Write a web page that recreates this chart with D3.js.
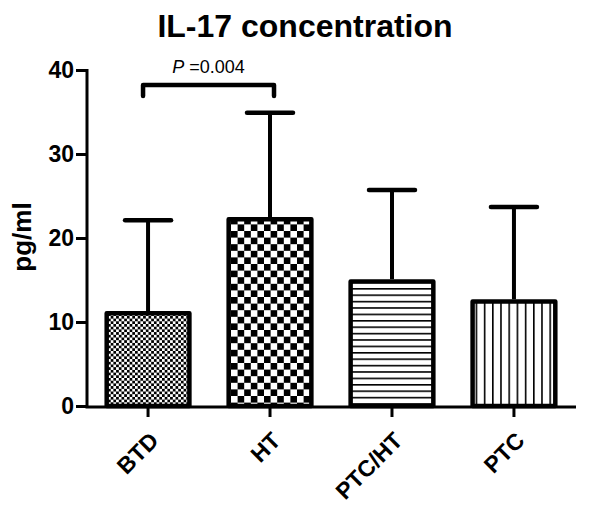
<!DOCTYPE html>
<html>
<head>
<meta charset="utf-8">
<script src="https://cdn.jsdelivr.net/npm/d3@7/dist/d3.min.js"></script>
<style>
  html, body { margin: 0; padding: 0; background: #fff; }
  svg { display: block; }
  text { font-family: "Liberation Sans", Arial, sans-serif; }
</style>
</head>
<body>
<div id="chart"></div>
<script>
const categories = ["BTD", "HT", "PTC/HT", "PTC"];
const means = [11.3, 22.5, 15.1, 12.7];
const errors = [10.8, 12.4, 10.6, 11.0];
const yTicks = [0, 10, 20, 30, 40];
const patterns = ["fineCheck", "coarseCheck", "hLines", "vLines"];
const title = "IL-17 concentration";
const yLabel = "pg/ml";
const sig = { from: "BTD", to: "HT", level: 38.2, drop: 1.3, label: "=0.004" };

const W = 600, H = 514;
const svg = d3.select("#chart").append("svg").attr("width", W).attr("height", H);

const defs = svg.append("defs");
(function(){
  const p = defs.append("pattern").attr("id", "fineCheck").attr("patternUnits", "userSpaceOnUse")
    .attr("width", 5.4).attr("height", 5.4);
  p.append("rect").attr("width", 5.4).attr("height", 5.4).attr("fill", "#fff");
  p.append("rect").attr("width", 2.7).attr("height", 2.7).attr("fill", "#000");
  p.append("rect").attr("x", 2.7).attr("y", 2.7).attr("width", 2.7).attr("height", 2.7).attr("fill", "#000");
})();
(function(){
  const s = 6.6;
  const p = defs.append("pattern").attr("id", "coarseCheck").attr("patternUnits", "userSpaceOnUse")
    .attr("width", 2*s).attr("height", 2*s);
  p.append("rect").attr("width", 2*s).attr("height", 2*s).attr("fill", "#fff");
  p.append("rect").attr("width", s).attr("height", s).attr("fill", "#000");
  p.append("rect").attr("x", s).attr("y", s).attr("width", s).attr("height", s).attr("fill", "#000");
})();
(function(){
  const s = 6.4;
  const p = defs.append("pattern").attr("id", "hLines").attr("patternUnits", "userSpaceOnUse")
    .attr("width", 10).attr("height", s);
  p.append("rect").attr("width", 10).attr("height", s).attr("fill", "#fff");
  p.append("rect").attr("y", 0).attr("width", 10).attr("height", 1.6).attr("fill", "#000");
})();
(function(){
  const s = 8.2;
  const p = defs.append("pattern").attr("id", "vLines").attr("patternUnits", "userSpaceOnUse")
    .attr("width", s).attr("height", 10);
  p.append("rect").attr("width", s).attr("height", 10).attr("fill", "#fff");
  p.append("rect").attr("x", 0).attr("width", 1.6).attr("height", 10).attr("fill", "#000");
})();

const x = d3.scaleBand().domain(categories).range([87, 575]).paddingInner(0.285).paddingOuter(0.143);
const y = d3.scaleLinear().domain([0, 40]).range([406, 70]);

svg.append("text").attr("x", 305).attr("y", 37).attr("text-anchor", "middle")
  .attr("font-size", 32).attr("font-weight", "bold").text(title);

svg.append("text").attr("transform", `translate(31,237) rotate(-90)`).attr("text-anchor", "middle")
  .attr("font-size", 26).attr("font-weight", "bold").text(yLabel);

const cap = 46;
const g = svg.append("g");
categories.forEach((c, i) => {
  const cx = x(c) + x.bandwidth() / 2;
  g.append("line").attr("x1", cx).attr("x2", cx).attr("y1", y(means[i])).attr("y2", y(means[i] + errors[i]))
    .attr("stroke", "#000").attr("stroke-width", 4);
  g.append("line").attr("x1", cx - cap/2).attr("x2", cx + cap/2)
    .attr("y1", y(means[i] + errors[i])).attr("y2", y(means[i] + errors[i]))
    .attr("stroke", "#000").attr("stroke-width", 4.5).attr("stroke-linecap", "round");
});

const sw = 4.5;
g.selectAll("rect.bar").data(categories).join("rect").attr("class", "bar")
  .attr("x", d => x(d) + sw/2)
  .attr("width", x.bandwidth() - sw)
  .attr("y", (d, i) => y(means[i]) + sw/2)
  .attr("height", (d, i) => y(0) - y(means[i]) - sw/2)
  .attr("fill", (d, i) => `url(#${patterns[i]})`)
  .attr("stroke", "#000").attr("stroke-width", sw).attr("stroke-linejoin", "round");

const yAxis = svg.append("g").attr("transform", "translate(87,0)")
  .call(d3.axisLeft(y).tickValues(yTicks).tickSize(11).tickPadding(2).tickSizeOuter(0));
yAxis.select(".domain").attr("stroke-width", 3).attr("d", `M0,${y(40)-1}V${y(0)+1.5}`);
yAxis.selectAll(".tick line").attr("stroke-width", 3);
yAxis.selectAll(".tick text").attr("font-size", 23).attr("font-weight", "bold")
  .attr("font-family", "Liberation Sans, Arial, sans-serif").attr("fill", "#000");

const xAxis = svg.append("g").attr("transform", `translate(0,${y(0)+1})`)
  .call(d3.axisBottom(x).tickSize(10).tickSizeOuter(0));
xAxis.select(".domain").attr("stroke-width", 3).attr("d", "M85.5,0H576");
xAxis.selectAll(".tick line").attr("stroke-width", 3);
xAxis.selectAll(".tick text")
  .attr("font-size", 23).attr("font-weight", "bold")
  .attr("font-family", "Liberation Sans, Arial, sans-serif").attr("fill", "#000")
  .attr("text-anchor", "end").attr("dy", null).attr("y", null)
  .attr("transform", "translate(12,35) rotate(-45)");

const bx1 = x(sig.from) + x.bandwidth()/2 - 5;
const bx2 = x(sig.to) + x.bandwidth()/2 + 4;
svg.append("path")
  .attr("d", `M${bx1},${y(sig.level - sig.drop)}V${y(sig.level)}H${bx2}V${y(sig.level - sig.drop)}`)
  .attr("fill", "none").attr("stroke", "#000").attr("stroke-width", 4.5)
  .attr("stroke-linecap", "round").attr("stroke-linejoin", "round");
const pt = svg.append("text").attr("x", (bx1 + bx2)/2).attr("y", 73).attr("text-anchor", "middle")
  .attr("font-size", 18);
pt.append("tspan").attr("font-style", "italic").text("P");
pt.append("tspan").text(" " + sig.label);
</script>
</body>
</html>
